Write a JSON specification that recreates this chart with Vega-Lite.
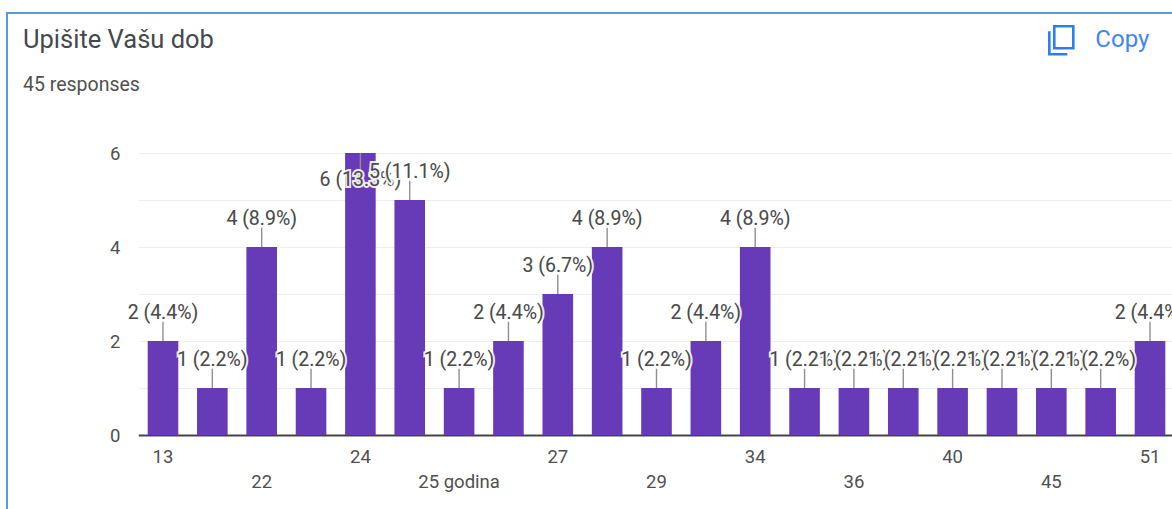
{"$schema":"https://vega.github.io/schema/vega-lite/v6.json","width":1166,"height":497,"autosize":{"type":"none"},"padding":{"left":7,"top":13,"right":0,"bottom":0},"background":"white","view":{"stroke":"#5b9bdc","strokeWidth":2,"fill":"white"},
"title":{"text":"Upišite Vašu dob","subtitle":"45 responses","anchor":"start","frame":"group","dx":16,"offset":-81,"font":"Roboto","fontSize":25.5,"fontWeight":"normal","color":"#45484c","subtitleFont":"Roboto","subtitleFontSize":19.5,"subtitleColor":"#505050","subtitlePadding":22},
"data":{"values":[
{"age":"13","count":2,"label":"2 (4.4%)"},{"age":"20","count":1,"label":"1 (2.2%)"},{"age":"22","count":4,"label":"4 (8.9%)"},{"age":"23","count":1,"label":"1 (2.2%)"},{"age":"24","count":6,"label":"6 (13.3%)"},{"age":"25","count":5,"label":"5 (11.1%)"},{"age":"25 godina","count":1,"label":"1 (2.2%)"},{"age":"26","count":2,"label":"2 (4.4%)"},{"age":"27","count":3,"label":"3 (6.7%)"},{"age":"28","count":4,"label":"4 (8.9%)"},{"age":"29","count":1,"label":"1 (2.2%)"},{"age":"33","count":2,"label":"2 (4.4%)"},{"age":"34","count":4,"label":"4 (8.9%)"},{"age":"35","count":1,"label":"1 (2.2%)"},{"age":"36","count":1,"label":"1 (2.2%)"},{"age":"37","count":1,"label":"1 (2.2%)"},{"age":"40","count":1,"label":"1 (2.2%)"},{"age":"41","count":1,"label":"1 (2.2%)"},{"age":"45","count":1,"label":"1 (2.2%)"},{"age":"47","count":1,"label":"1 (2.2%)"},{"age":"51","count":2,"label":"2 (4.4%)"}]},
"transform":[{"calculate":"datum.count==6 ? 5.43 : datum.count+0.6","as":"labelAt"},{"calculate":"datum.count==6 ? 5.6 : datum.count+0.41","as":"stemEnd"}],
"encoding":{"x":{"field":"age","type":"nominal","sort":null,"title":null,"scale":{"domain":["13","20","22","23","24","25","25 godina","26","27","28","29","33","34","35","36","37","40","41","45","47","51"],"range":[131.3,1167.7],"paddingInner":0.38,"paddingOuter":0.19},"axis":{"orient":"bottom","offset":-75,"ticks":false,"grid":false,"labelAngle":0,"labelFont":"Roboto","labelFontSize":18.5,"labelColor":"#505050","labelPadding":12,"labelLineHeight":25,"labelOverlap":false,"labelBound":false,"labelFlush":false,"labelBaseline":"top","domainColor":"#444444","domainWidth":2,"title":null,"labelExpr":"indexof(['13','24','27','34','40','51'],datum.value)>=0 ? datum.value : indexof(['22','25 godina','29','36','45'],datum.value)>=0 ? ['',datum.value] : ''"}}},
"layer":[
{"mark":{"type":"bar","color":"#673ab7"},"encoding":{"y":{"field":"count","type":"quantitative","title":null,"scale":{"domain":[0,6],"range":[422,140],"nice":false,"zero":false},"axis":{"title":null,"offset":-125,"values":[0,1,2,3,4,5,6],"format":"d","ticks":false,"domain":false,"grid":true,"gridColor":"#eeeeee","labelFont":"Roboto","labelFontSize":18.5,"labelColor":"#505050","labelPadding":12,"labelExpr":"datum.value%2==0 ? datum.label : ''"}}}},
{"mark":{"type":"rule","color":"#8f8f8f","strokeWidth":1.4},"encoding":{"y":{"field":"count","type":"quantitative"},"y2":{"field":"stemEnd"}}},
{"transform":[{"filter":{"field":"age","oneOf":["13","20","22","23","24","25 godina","26","27","28","29","33","34","35","51"]}}],"mark":{"type":"text","font":"Roboto","fontSize":19.5,"stroke":"white","strokeWidth":4,"strokeOpacity":0.9},"encoding":{"y":{"field":"labelAt","type":"quantitative"},"text":{"field":"label"}}},
{"transform":[{"filter":{"field":"age","oneOf":["13","20","22","23","24","25 godina","26","27","28","29","33","34","35","51"]}}],"mark":{"type":"text","font":"Roboto","fontSize":19.5,"color":"#4a4a4a"},"encoding":{"y":{"field":"labelAt","type":"quantitative"},"text":{"field":"label"}}},
{"transform":[{"filter":{"field":"age","oneOf":["25","36"]}}],"mark":{"type":"text","font":"Roboto","fontSize":19.5,"stroke":"white","strokeWidth":4,"strokeOpacity":0.9},"encoding":{"y":{"field":"labelAt","type":"quantitative"},"text":{"field":"label"}}},
{"transform":[{"filter":{"field":"age","oneOf":["25","36"]}}],"mark":{"type":"text","font":"Roboto","fontSize":19.5,"color":"#4a4a4a"},"encoding":{"y":{"field":"labelAt","type":"quantitative"},"text":{"field":"label"}}},
{"transform":[{"filter":{"field":"age","equal":"37"}}],"mark":{"type":"text","font":"Roboto","fontSize":19.5,"stroke":"white","strokeWidth":4,"strokeOpacity":0.9},"encoding":{"y":{"field":"labelAt","type":"quantitative"},"text":{"field":"label"}}},
{"transform":[{"filter":{"field":"age","equal":"37"}}],"mark":{"type":"text","font":"Roboto","fontSize":19.5,"color":"#4a4a4a"},"encoding":{"y":{"field":"labelAt","type":"quantitative"},"text":{"field":"label"}}},
{"transform":[{"filter":{"field":"age","equal":"40"}}],"mark":{"type":"text","font":"Roboto","fontSize":19.5,"stroke":"white","strokeWidth":4,"strokeOpacity":0.9},"encoding":{"y":{"field":"labelAt","type":"quantitative"},"text":{"field":"label"}}},
{"transform":[{"filter":{"field":"age","equal":"40"}}],"mark":{"type":"text","font":"Roboto","fontSize":19.5,"color":"#4a4a4a"},"encoding":{"y":{"field":"labelAt","type":"quantitative"},"text":{"field":"label"}}},
{"transform":[{"filter":{"field":"age","equal":"41"}}],"mark":{"type":"text","font":"Roboto","fontSize":19.5,"stroke":"white","strokeWidth":4,"strokeOpacity":0.9},"encoding":{"y":{"field":"labelAt","type":"quantitative"},"text":{"field":"label"}}},
{"transform":[{"filter":{"field":"age","equal":"41"}}],"mark":{"type":"text","font":"Roboto","fontSize":19.5,"color":"#4a4a4a"},"encoding":{"y":{"field":"labelAt","type":"quantitative"},"text":{"field":"label"}}},
{"transform":[{"filter":{"field":"age","equal":"45"}}],"mark":{"type":"text","font":"Roboto","fontSize":19.5,"stroke":"white","strokeWidth":4,"strokeOpacity":0.9},"encoding":{"y":{"field":"labelAt","type":"quantitative"},"text":{"field":"label"}}},
{"transform":[{"filter":{"field":"age","equal":"45"}}],"mark":{"type":"text","font":"Roboto","fontSize":19.5,"color":"#4a4a4a"},"encoding":{"y":{"field":"labelAt","type":"quantitative"},"text":{"field":"label"}}},
{"transform":[{"filter":{"field":"age","equal":"47"}}],"mark":{"type":"text","font":"Roboto","fontSize":19.5,"stroke":"white","strokeWidth":4,"strokeOpacity":0.9},"encoding":{"y":{"field":"labelAt","type":"quantitative"},"text":{"field":"label"}}},
{"transform":[{"filter":{"field":"age","equal":"47"}}],"mark":{"type":"text","font":"Roboto","fontSize":19.5,"color":"#4a4a4a"},"encoding":{"y":{"field":"labelAt","type":"quantitative"},"text":{"field":"label"}}},
{"data":{"values":[{"action":"Copy"}]},"mark":{"type":"text","font":"Roboto","fontSize":24,"color":"#4285f4","align":"left","dx":44},"encoding":{"x":{"datum":"45","type":"nominal"},"y":{"datum":8.41,"type":"quantitative"},"text":{"field":"action"}}},
{"data":{"values":[{"action":"Copy"}]},"mark":{"type":"point","shape":"M-0.75,-0.56 L-0.75,0.875 L0.375,0.875 M-0.44,-0.875 L0.75,-0.875 L0.75,0.5 L-0.44,0.5 Z","size":1024,"filled":false,"stroke":"#2a7ff0","strokeWidth":2.6,"opacity":1,"xOffset":10},"encoding":{"x":{"datum":"45","type":"nominal"},"y":{"datum":8.4,"type":"quantitative"}}}
]}
